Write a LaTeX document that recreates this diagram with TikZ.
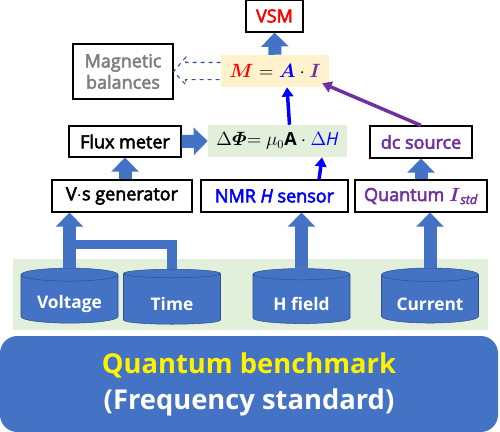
\documentclass[tikz,border=0pt]{standalone}
\usepackage{amsmath}
\usepackage{fontspec}
\setmainfont{Open Sans}
\newfontfamily\medfont{Open Sans}[FakeBold=3]
\usetikzlibrary{shapes.geometric,arrows.meta,calc}
\definecolor{blk}{HTML}{4472C4}
\definecolor{drumline}{HTML}{2F528F}
\definecolor{dashblue}{HTML}{2F5597}
\definecolor{bandgreen}{HTML}{E2EFDA}
\definecolor{mfill}{HTML}{FFF2CC}
\definecolor{purp}{HTML}{7030A0}
\definecolor{graytxt}{HTML}{7F7F7F}
\tikzset{
    box/.style={draw, line width=0.9pt, inner sep=0pt, minimum height=24pt,
        font=\medfont\fontsize{13.5}{16}\selectfont},
    formula/.style={inner sep=0pt, minimum height=24pt, font=\fontsize{13.5}{16}\selectfont},
    drum/.style={cylinder, shape border rotate=90, aspect=0.2, draw=drumline, fill=blk,
        minimum width=72.75pt, minimum height=41.25pt, text=white, inner sep=0pt,
        text height=18pt, font=\bfseries\fontsize{13}{15}\selectfont},
    fatarrow/.style={draw=blk, line width=9.75pt, -{Triangle[length=10.5pt,width=20pt]}},
    thinarrow/.style={line width=2.6pt, -{Triangle[length=7pt,width=8.5pt]}}
}

\begin{document}
\begin{tikzpicture}[x=0.75pt, y=-0.75pt]
        \useasboundingbox (0,0) rectangle (500,432);
        \fill[bandgreen] (13,259) rectangle (488,330);
        \node (vsm) [box, minimum width=42.75pt, text=red] at (274.5,16) {VSM};
        \node (mbox) [formula, fill=mfill, minimum width=81pt] at (275,71)
                {$\color{red}\boldsymbol{M}\color{black} = \color{blue}\boldsymbol{A}\color{black}\cdot\color{purp}\boldsymbol{I}$};
        \node (mbal) [box, minimum width=75pt, minimum height=41.25pt, text=graytxt, align=center] at (123,71.5)
                {Magnetic\\balances};
        \node (flux) [box, minimum width=84pt, minimum height=23.25pt] at (125,141.5) {Flux meter};
        \node (dphi) [formula, fill=bandgreen, minimum width=104.25pt] at (277.5,141)
                {$\Delta\boldsymbol{\varPhi}{=}\ \mu_0\mathbf{A}\cdot{}$\textcolor{blue}{$\Delta$\textit{H}}};
        \node (dcsrc) [box, minimum width=76.5pt, text=purp] at (421,142) {dc source};
        \node (vsgen) [box, minimum width=105pt] at (122,196) {V$\cdot$s generator};
        \node (nmr) [box, minimum width=110.25pt, text=blue] at (274.5,196) {NMR \textit{H} sensor};
        \node (qcur) [box, minimum width=99pt, text=purp] at (421,196)
                {Quantum $\boldsymbol{I}$\textsubscript{\itshape std}};
        \node (volt) [drum] at (69.5,299) {Voltage};
        \node (time) [drum] at (172,299) {Time};
        \node (hfld) [drum] at (301.5,299) {H field};
        \node (curr) [drum] at (430,299) {Current};
        \node (bench) [fill=blk, rounded corners=13pt, minimum width=373.5pt, minimum height=72pt,
                align=center, text=white, font=\bfseries\fontsize{20.5}{27}\selectfont] at (249,384)
                {\textcolor{yellow}{Quantum benchmark}\\(Frequency standard)};
        \coordinate (tjoin) at (71.5,244.5);
        % block arrows
        \draw[draw=blk, line width=7pt] (time.north) |- (tjoin);
        \draw[fatarrow] (volt.north) -- (volt.north |- vsgen.south);
        \draw[fatarrow] (hfld.north) -- (hfld.north |- nmr.south);
        \draw[fatarrow] (curr.north) -- (curr.north |- qcur.south);
        \draw[fatarrow] (vsgen.north -| flux.south) -- (flux.south);
        \draw[fatarrow] (qcur.north) -- (dcsrc.south);
        \draw[fatarrow] (flux.east) -- (dphi.west);
        \draw[fatarrow] (mbox.north) -- (vsm.south);
        % hollow dashed arrow
        \draw[dashblue, dashed, line width=0.8pt] ([yshift=6.4pt]mbox.west) -- ++(-26.25pt,0) -- ++(0,3.9pt)
                -- (mbal.east) -- ([xshift=-26.25pt,yshift=-10.3pt]mbox.west) -- ++(0,3.9pt) -- ([yshift=-6.4pt]mbox.west);
        % thin arrows
        \draw[thinarrow, blue] ([xshift=9pt]dphi.north) -- ([xshift=9pt]mbox.south);
        \draw[thinarrow, blue] ([xshift=33.4pt]nmr.north) -- ([xshift=33.4pt]dphi.south);
        \draw[thinarrow, purp] (dcsrc.north) -- ($(mbox.south east)+(-7,-4)$);
\end{tikzpicture}
\end{document}
